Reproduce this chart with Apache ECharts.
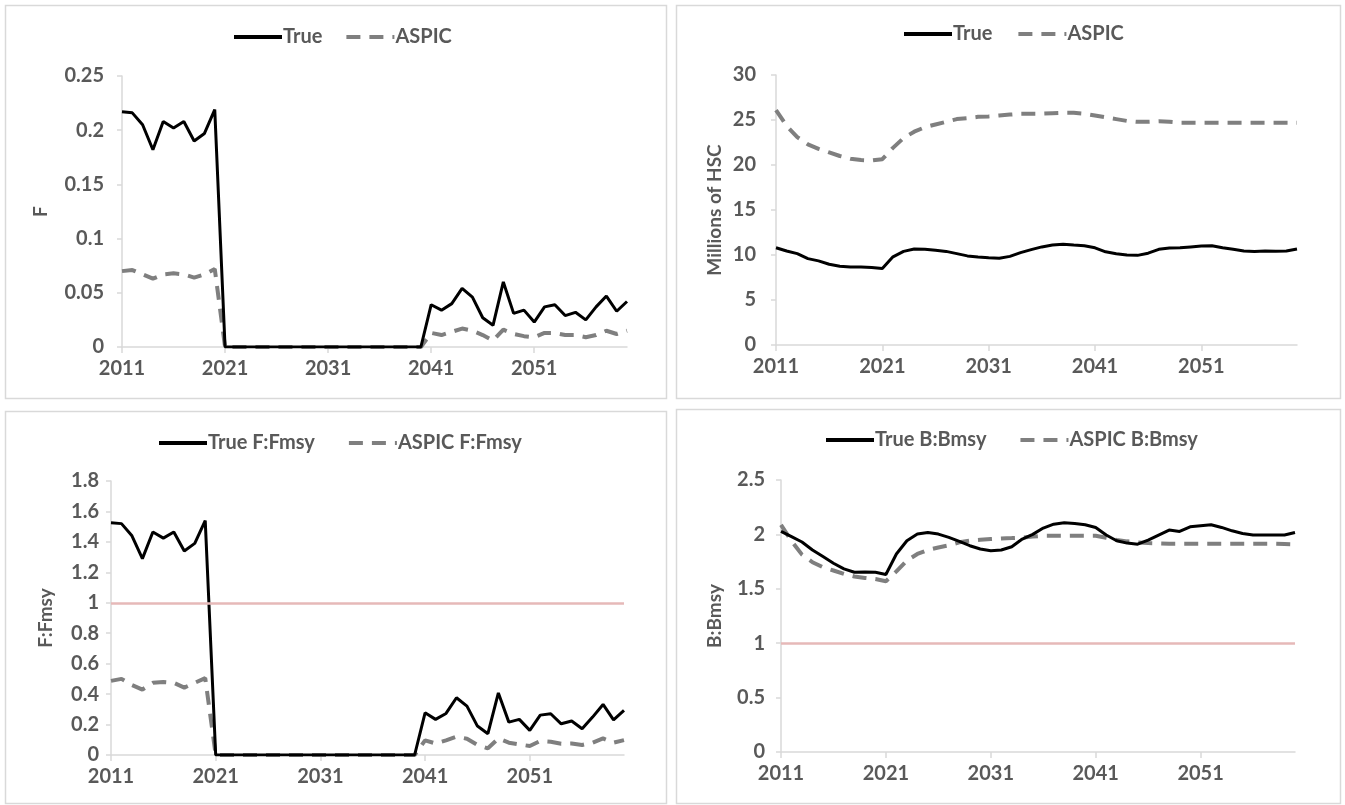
<!DOCTYPE html>
<html><head><meta charset="utf-8">
<script src="https://cdn.jsdelivr.net/npm/echarts@6/dist/echarts.min.js"></script>
<style>html,body{margin:0;padding:0;background:#fff}#c{width:1345px;height:805px}</style>
</head><body><div id="c"></div>
<script>
const years = [];
for (let y = 2011; y <= 2060; y++) years.push(String(y));

// Panel 1: F
const fTrue = [0.217,0.216,0.205,0.182,0.208,0.202,0.208,0.190,0.197,0.219,
  0,0,0,0,0,0,0,0,0,0, 0,0,0,0,0,0,0,0,0,0,
  0.039,0.034,0.040,0.054,0.046,0.027,0.020,0.060,0.031,0.034,
  0.023,0.037,0.039,0.029,0.032,0.025,0.037,0.047,0.033,0.042];
const fAspic = [0.070,0.071,0.067,0.063,0.067,0.068,0.067,0.064,0.067,0.072,
  0,0,0,0,0,0,0,0,0,0, 0,0,0,0,0,0,0,0,0,0,
  0.013,0.011,0.014,0.017,0.015,0.011,0.006,0.016,0.012,0.010,
  0.009,0.013,0.013,0.011,0.011,0.009,0.011,0.015,0.012,0.015];

// Panel 2: Millions of HSC
const hTrue = [10.8,10.45,10.15,9.6,9.35,8.97,8.75,8.67,8.67,8.6,
  8.5,9.8,10.4,10.66,10.63,10.52,10.4,10.15,9.9,9.78,
  9.7,9.63,9.85,10.26,10.6,10.9,11.1,11.2,11.1,11.03,
  10.8,10.35,10.15,10.0,9.96,10.2,10.63,10.77,10.8,10.9,
  11.0,11.03,10.8,10.63,10.45,10.4,10.44,10.42,10.44,10.66];
const hAspic = [26.1,24.35,23.1,22.3,21.8,21.4,21.0,20.7,20.55,20.5,
  20.65,21.9,23.0,23.7,24.2,24.5,24.8,25.1,25.2,25.35,
  25.4,25.5,25.6,25.7,25.7,25.7,25.75,25.8,25.8,25.7,
  25.5,25.3,25.1,24.9,24.8,24.8,24.85,24.8,24.7,24.7,
  24.7,24.7,24.7,24.7,24.7,24.7,24.7,24.7,24.7,24.7];

// Panel 3: F:Fmsy
const ffTrue = [1.525,1.52,1.44,1.29,1.465,1.425,1.465,1.34,1.39,1.54,
  0,0,0,0,0,0,0,0,0,0, 0,0,0,0,0,0,0,0,0,0,
  0.277,0.234,0.273,0.376,0.321,0.19,0.14,0.408,0.216,0.234,
  0.162,0.262,0.271,0.205,0.223,0.172,0.249,0.332,0.231,0.293];
const ffAspic = [0.487,0.50,0.46,0.43,0.474,0.48,0.474,0.443,0.474,0.505,
  0,0,0,0,0,0,0,0,0,0, 0,0,0,0,0,0,0,0,0,0,
  0.096,0.076,0.096,0.12,0.107,0.066,0.044,0.109,0.081,0.07,
  0.059,0.092,0.087,0.074,0.076,0.066,0.081,0.109,0.081,0.098];

// Panel 4: B:Bmsy
const bTrue = [2.027,1.98,1.93,1.857,1.796,1.735,1.683,1.652,1.655,1.652,
  1.631,1.82,1.942,2.003,2.018,2.003,1.972,1.936,1.896,1.866,
  1.85,1.857,1.887,1.957,2.0,2.058,2.094,2.107,2.10,2.088,
  2.064,1.994,1.942,1.92,1.91,1.948,1.994,2.04,2.027,2.07,
  2.079,2.088,2.064,2.033,2.009,1.994,1.994,1.994,1.994,2.018];
const bAspic = [2.088,1.94,1.814,1.744,1.698,1.668,1.637,1.613,1.60,1.59,
  1.57,1.66,1.76,1.82,1.857,1.88,1.90,1.927,1.942,1.95,
  1.957,1.963,1.966,1.97,1.98,1.988,1.988,1.988,1.988,1.988,
  1.988,1.97,1.948,1.936,1.927,1.92,1.918,1.915,1.915,1.915,
  1.915,1.915,1.915,1.915,1.915,1.915,1.915,1.915,1.912,1.909];

const FONT = 'Lato, "Open Sans", sans-serif';
const TXT = '#595959';
const AX = '#d9d9d9';

const grids = [
  {left:122, top:76, width:505, height:271},
  {left:776, top:75, width:521, height:270},
  {left:111, top:481, width:513, height:274},
  {left:781, top:480, width:514, height:272}
];
const yCfg = [
  {min:0,max:0.25,interval:0.05,name:'F',gap:72},
  {min:0,max:30,interval:5,name:'Millions of HSC',gap:52},
  {min:0,max:1.8,interval:0.2,name:'F:Fmsy',gap:56},
  {min:0,max:2.5,interval:0.5,name:'B:Bmsy',gap:57}
];
const labelMargins = [18,20,12,16];

const xAxes = grids.map((g,i)=>({
  gridIndex:i, type:'category', data:years, boundaryGap:false,
  axisLine:{lineStyle:{color:AX,width:1.5}},
  axisTick:{show:true,interval:9,alignWithLabel:true,length:6,lineStyle:{color:AX,width:1.5}},
  axisLabel:{interval:9,color:TXT,fontFamily:FONT,fontWeight:'bold',fontSize:20,margin:12},
  splitLine:{show:false}
}));
const yAxes = yCfg.map((c,i)=>({
  gridIndex:i, type:'value', min:c.min, max:c.max, interval:c.interval,
  name:c.name, nameLocation:'middle', nameGap:c.gap, nameRotate:90,
  nameTextStyle:{color:TXT,fontFamily:FONT,fontWeight:'bold',fontSize:19},
  axisLine:{show:true,lineStyle:{color:AX,width:1.5}},
  axisTick:{show:true,length:5,lineStyle:{color:AX,width:1.5}},
  axisLabel:{color:TXT,fontFamily:FONT,fontWeight:'bold',fontSize:20,margin:labelMargins[i]},
  splitLine:{show:false}
}));

const solid = {color:'#000000',width:3,type:'solid'};
const dashed = {color:'#7f7f7f',width:4,type:[14,9]};
const refLine = (on)=> on ? {symbol:'none',silent:true,label:{show:false},
  lineStyle:{color:'#e6b9b8',width:2.5,type:'solid'},data:[{yAxis:1}]} : undefined;

const names = [['True','ASPIC'],['True','ASPIC'],['True F:Fmsy','ASPIC F:Fmsy'],['True B:Bmsy','ASPIC B:Bmsy']];
const datas = [[fTrue,fAspic],[hTrue,hAspic],[ffTrue,ffAspic],[bTrue,bAspic]];
const series = [];
datas.forEach((d,i)=>{
  series.push({name:names[i][1],type:'line',xAxisIndex:i,yAxisIndex:i,data:d[1],symbol:'none',
    lineStyle:dashed,itemStyle:{color:'#7f7f7f'},animation:false,z:2,
    markLine:refLine(i>=2)});
  series.push({name:names[i][0],type:'line',xAxisIndex:i,yAxisIndex:i,data:d[0],symbol:'none',
    lineStyle:solid,itemStyle:{color:'#000'},animation:false,z:3});
});
const legendPos = [{left:227,top:22,gap:22},{left:897,top:19,gap:24},{left:152,top:428,gap:32},{left:819,top:425,gap:32}];
const legends = names.map((n,i)=>({
  data:[{name:n[0]},{name:n[1]}], left:legendPos[i].left, top:legendPos[i].top,
  itemWidth:48, itemHeight:14, itemGap:legendPos[i].gap, selectedMode:false,
  itemStyle:{opacity:0}, lineStyle:{width:4},
  textStyle:{color:TXT,fontFamily:FONT,fontWeight:'bold',fontSize:20,padding:[0,0,0,-4]}
}));

const boxes = [[5,5,661,393],[676,5,664,393],[5,411,661,392],[676,409,664,394]];
const graphic = boxes.map(b=>({type:'rect',shape:{x:b[0]+0.5,y:b[1]+0.5,width:b[2],height:b[3]},
  style:{fill:null,stroke:'#d9d9d9',lineWidth:1.5},silent:true,z:-1}));

const chart = echarts.init(document.getElementById('c'),null,{renderer:'canvas'});
chart.setOption({
  backgroundColor:'#ffffff', animation:false,
  grid:grids, xAxis:xAxes, yAxis:yAxes, series:series, legend:legends, graphic:graphic
});
</script></body></html>
